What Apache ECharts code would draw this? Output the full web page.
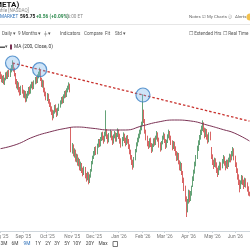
<!DOCTYPE html>
<html>
<head>
<meta charset="utf-8">
<script src="https://cdn.jsdelivr.net/npm/echarts@6/dist/echarts.min.js"></script>
<style>
html, body { margin: 0; padding: 0; background: #fff; }
#chart { width: 250px; height: 250px; }
</style>
</head>
<body>
<div id="chart"></div>
<script>
// trading days, weekdays from this date
const startDate = '2025-08-01';
const candleCount = 230;
const monthNames = ['Jan', 'Feb', 'Mar', 'Apr', 'May', 'Jun', 'Jul', 'Aug', 'Sep', 'Oct', 'Nov', 'Dec'];

// [open, close, low, high]
const candles = [
  [776,772,768,779],[773,766,763,775],[765,770,762,773],[771,763,760,774],[762,768,759,770],
  [769,775,766,778],[776,771,768,779],[770,778,768,781],[779,774,771,782],[773,781,771,784],
  [782,785,778,789],[786,790,781,796],[789,782,779,792],[781,776,772,785],[774,764,760,777],
  [765,758,754,768],[757,761,752,765],[760,752,748,763],[751,748,743,756],[747,755,744,758],
  [756,750,746,759],[749,744,740,752],[743,748,739,751],[747,738,733,750],[737,742,734,746],
  [743,746,739,750],[745,753,743,756],[754,749,745,757],[748,757,746,760],[758,760,754,764],
  [761,756,752,764],[755,763,753,766],[764,768,760,771],[769,765,761,772],[764,772,762,775],
  [773,776,769,779],[777,780,772,785],[779,768,765,782],[767,760,756,770],[759,764,755,767],
  [763,752,748,766],[751,746,742,755],[745,740,736,749],[739,744,735,747],[743,735,731,746],
  [734,730,726,738],[729,724,719,733],[723,720,714,727],[719,712,706,722],[711,718,709,721],
  [719,726,716,729],[727,721,718,730],[720,716,711,724],[715,722,713,725],[723,728,720,731],
  [729,733,725,736],[734,738,730,741],[739,735,731,742],[734,742,732,745],[743,747,739,750],
  [748,744,740,751],[743,751,741,754],[752,755,748,758],[756,758,752,763],[757,752,748,761],
  [690,662,658,695],[661,668,656,672],[667,656,652,670],[655,660,650,664],[659,648,644,662],
  [647,652,643,656],[651,642,638,655],[641,646,637,650],[645,636,631,648],[635,640,630,644],
  [639,632,627,642],[631,628,622,635],[627,634,624,637],[633,624,619,636],[623,620,614,627],
  [619,626,616,629],[625,616,610,628],[615,622,612,625],[623,630,620,633],[631,642,629,645],
  [643,650,640,653],[651,656,648,660],[657,662,653,666],[663,658,654,667],[657,668,655,671],
  [669,674,665,678],[675,670,666,678],[669,678,667,681],[679,684,675,688],[685,680,676,689],
  [679,676,671,683],[677,686,674,689],[687,690,682,721],[689,682,678,693],[681,676,671,685],
  [675,684,673,687],[685,688,680,692],[687,680,676,690],[679,674,669,683],[673,682,671,685],
  [683,686,679,690],[685,678,674,688],[677,684,674,687],[685,690,681,694],[689,683,678,692],
  [682,676,671,686],[675,670,665,679],[669,678,667,681],[679,684,675,688],[683,677,672,686],
  [676,672,667,680],[671,680,669,683],[681,676,671,684],[675,668,663,678],[667,660,655,670],
  [659,652,647,662],[651,644,639,654],[643,638,632,647],[637,648,635,651],[649,660,646,663],
  [661,670,658,673],[671,676,667,680],[677,682,673,686],[683,688,679,692],[689,694,685,698],
  [695,700,691,704],[701,718,698,745],[717,706,702,722],[705,690,686,708],[689,680,676,692],
  [679,672,667,683],[671,668,663,675],[667,676,665,679],[677,670,666,680],[669,662,657,672],
  [661,668,659,671],[669,676,666,679],[677,672,668,680],[671,680,669,683],[681,686,677,690],
  [685,678,674,688],[677,670,665,680],[669,664,659,673],[663,672,661,675],[673,680,670,683],
  [681,684,677,688],[683,676,672,686],[675,668,663,678],[667,674,665,677],[675,682,672,685],
  [683,688,679,692],[687,680,676,690],[679,674,669,683],[673,666,661,676],[665,672,663,675],
  [671,664,660,674],[663,658,653,667],[657,650,645,660],[649,654,646,658],[653,644,640,657],
  [643,636,631,646],[635,640,630,644],[639,628,624,642],[627,618,612,630],[617,606,600,620],
  [605,590,584,608],[589,572,561,592],[573,584,568,588],[585,598,581,602],[597,588,583,601],
  [589,596,585,600],[597,604,593,608],[610,618,606,622],[619,628,615,632],[629,640,626,644],
  [641,650,637,654],[651,664,648,668],[665,672,660,676],[673,680,669,684],[681,688,677,692],
  [689,694,684,698],[695,700,690,706],[699,692,688,703],[691,684,679,695],[685,690,681,694],
  [689,682,677,693],[681,676,671,685],[677,684,673,688],[685,680,676,689],[662,652,648,666],
  [651,644,639,655],[643,638,633,647],[639,646,636,650],[645,640,635,649],[639,632,627,643],
  [631,626,621,635],[627,634,624,638],[635,640,631,644],[639,636,631,643],[637,644,634,648],
  [645,650,641,654],[649,642,638,652],[641,636,631,645],[637,644,634,647],[643,638,633,647],
  [639,646,636,650],[647,652,643,656],[651,648,643,655],[649,656,646,660],[657,662,652,666],
  [661,650,646,664],[649,640,636,653],[639,632,627,643],[631,622,617,634],[621,614,609,625],
  [613,606,598,617],[607,612,603,616],[613,620,610,624],[619,614,609,623],[613,608,603,617],
  [609,616,606,620],[615,610,605,619],[609,604,599,613],[603,595.19,593,607],[596,595.75,592,599]
];

// MA(200) read at sparse candle indexes
const maPoints = [
  [0,663.5],[15,670],[30,681],[45,688.5],[60,694],[70,696],[85,694],[100,691.5],[115,691.5],
  [130,697.5],[145,703.5],[160,706.5],[175,705],[190,699],[205,692],[215,687],[229,675]
];
const trendPoints = [[11,792],[229,704.8]];
const touchPoints = [[11,792],[36,782],[131,744]];
const rangeButtons = ['3M','6M','9M','1Y','2Y','3Y','5Y','10Y','20Y','Max'];

const upColor = '#3d8c55';
const downColor = '#cf3e3e';
const maColor = '#7b3355';
const font = 'Roboto, sans-serif';

const dates = [];
const cur = new Date(startDate + 'T00:00:00Z');
while (dates.length < candleCount) {
  const wd = cur.getUTCDay();
  if (wd !== 0 && wd !== 6) dates.push(new Date(cur));
  cur.setUTCDate(cur.getUTCDate() + 1);
}
const categories = dates.map(d => d.toISOString().slice(0, 10));
const monthStart = new Set();
dates.forEach((d, i) => {
  if (i === 0 || d.getUTCMonth() !== dates[i - 1].getUTCMonth()) monthStart.add(i);
});
const monthLabel = (v) => {
  const d = new Date(v + 'T00:00:00Z');
  return monthNames[d.getUTCMonth()] + " '" + String(d.getUTCFullYear()).slice(2);
};

const txt = (x, y, text, opts = {}) => ({
  type: 'text', x, y, silent: true,
  style: {
    text, fill: opts.fill || '#555', font: opts.font || ('4.6px ' + font),
    align: opts.align || 'left', verticalAlign: 'middle'
  }
});

const buttonX = [4, 15, 27, 38, 48, 57, 67, 77, 90, 103];

const graphics = [
  txt(-5, 5, 'META)', { font: 'bold 8px ' + font, fill: '#111' }),
  txt(-6, 11, 'Profile [NASDAQ]', { fill: '#888', font: '4.6px ' + font }),
  txt(0, 17, 'MARKET', { fill: '#2d6fb8', font: '4.6px ' + font }),
  txt(20, 17, '595.75', { fill: '#111', font: 'bold 4.8px ' + font }),
  txt(36, 17, '+0.56 (+0.09%)', { fill: '#2e8b4f', font: 'bold 4.8px ' + font }),
  txt(65, 17, '16:00 ET', { fill: '#888', font: '4.6px ' + font }),
  txt(189, 17, 'Notes \u2611', { fill: '#666', font: '4.4px ' + font }),
  txt(207, 17, 'My Charts \u24d8', { fill: '#666', font: '4.4px ' + font }),
  txt(235, 17, 'Alerts', { fill: '#666', font: '4.4px ' + font }),
  { type: 'circle', shape: { cx: 250, cy: 17, r: 3.5 }, style: { fill: '#f2c14e' }, silent: true },
  { type: 'line', shape: { x1: 0, y1: 24.5, x2: 250, y2: 24.5 }, style: { stroke: '#e6e6e6', lineWidth: 1 }, silent: true },
  txt(2, 34, 'Daily \u25be'),
  txt(18, 34, '9 Months \u25be'),
  txt(44, 34, '\u256a \u25be'),
  txt(60, 34, 'Indicators'),
  txt(84, 34, 'Compare'),
  txt(105, 34, 'Fit'),
  txt(115, 34, 'Std \u25be'),
  txt(189, 34, '\u2610 Extended Hrs'),
  txt(223, 34, '\u2610 Real Time'),
  txt(0, 47, '\u25ac', { fill: '#555', font: '5px ' + font }),
  txt(5, 47, '\u25be', { fill: '#555', font: '4.6px ' + font }),
  { type: 'rect', shape: { x: 10, y: 44.5, width: 2, height: 5 }, style: { fill: maColor }, silent: true },
  txt(14, 47, 'MA (200, Close, 0)', { fill: '#333', font: '4.8px ' + font })
];
rangeButtons.forEach((b, i) => {
  graphics.push(txt(buttonX[i], 244, b, {
    align: 'center', fill: b === '9M' ? '#2d6fb8' : '#444', font: '4.8px ' + font
  }));
});
graphics.push({ type: 'rect', shape: { x: 113, y: 241.5, width: 4.5, height: 5 }, style: { fill: 'none', stroke: '#555', lineWidth: 0.8 }, silent: true });

const chart = echarts.init(document.getElementById('chart'), null, { renderer: 'canvas' });
chart.setOption({
  animation: false,
  backgroundColor: '#fff',
  grid: { left: 0, right: 0, top: 51, bottom: 19, containLabel: false, outerBoundsMode: 'none' },
  xAxis: {
    type: 'category',
    data: categories,
    boundaryGap: true,
    axisLine: { lineStyle: { color: '#cfd6dc' } },
    axisTick: { show: true, interval: (i) => monthStart.has(i), length: 2, lineStyle: { color: '#cfd6dc' } },
    axisLabel: {
      interval: (i) => monthStart.has(i),
      formatter: monthLabel,
      fontSize: 4.8, color: '#777', fontFamily: font, margin: 3,
      hideOverlap: false
    },
    splitLine: { show: false }
  },
  yAxis: {
    type: 'value', min: 540, max: 810, show: false,
    splitLine: { show: false }
  },
  graphic: graphics,
  series: [
    {
      type: 'candlestick',
      data: candles.map(c => [c[0], c[1], c[2], c[3]]),
      barWidth: '75%',
      itemStyle: { color: upColor, color0: downColor, borderColor: upColor, borderColor0: downColor, borderWidth: 0.8 }
    },
    {
      type: 'line', data: maPoints, smooth: true, symbol: 'none',
      lineStyle: { color: maColor, width: 1 }, z: 3
    },
    {
      type: 'line', data: trendPoints, symbol: 'none',
      lineStyle: { color: '#c8312d', width: 1.3, type: [2.5, 2] }, z: 4
    },
    {
      type: 'scatter', data: touchPoints, symbolSize: 14,
      itemStyle: { color: 'rgba(120,180,235,0.45)', borderColor: '#3a7fc4', borderWidth: 1.2 }, z: 5
    }
  ]
});
</script>
</body>
</html>
